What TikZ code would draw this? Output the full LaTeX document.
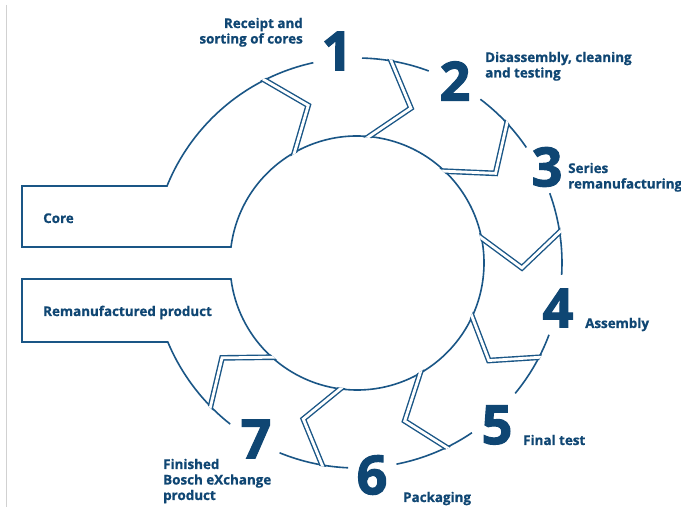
\documentclass[tikz,border=0pt]{standalone}
\usepackage{fontspec}
\setmainfont{Open Sans}
\newfontfamily\heavyfont{Open Sans}[BoldFeatures={FakeBold=2}]
\newfontfamily\lblfont{Open Sans}[BoldFeatures={FakeBold=0.8}]
\usetikzlibrary{calc}
\definecolor{navy}{HTML}{0F4673}
\definecolor{ln}{HTML}{1A5686}
\begin{document}
\begin{tikzpicture}[x=1pt,y=1pt,
  lbl/.style={inner sep=0pt, text=navy, font=\lblfont\fontsize{13.4}{15.5}\selectfont\bfseries},
  num/.style={inner sep=0pt, text=navy, font=\heavyfont\fontsize{54}{54}\selectfont\bfseries},
  ring/.style={draw=ln, line width=1.6pt, line join=miter},
  seam/.style={draw=ln, line width=1.4pt, double=white, double distance=2.8pt, line join=miter}]
\useasboundingbox (0,0) rectangle (681,514);
\fill[white] (0,0) rectangle (681,514);
\draw[black!18, line width=0.8pt] (6.5,509) -- (6.5,7);
\begin{scope}[shift={(357,251)}]
  % arms, inner ring and outer arcs
  \draw[ring] (102.3:205) arc[start angle=102.3, end angle=157.94, radius=205]
     -- (-335,77) -- (-335,16) -- (-125.99,16)
     arc[start angle=172.762, end angle=-172.762, radius=127]
     -- (-335,-16) -- (-335,-79) -- (-189.17,-79)
     arc[start angle=-157.333, end angle=-128.2, radius=205];
  \draw[ring] (88.6:205) arc[start angle=88.6, end angle=69.5, radius=205];
  \draw[ring] (53.0:205) arc[start angle=53.0, end angle=34.3, radius=205];
  \draw[ring] (19.9:205) arc[start angle=19.9, end angle=-3.3, radius=205];
  \draw[ring] (-20.5:205) arc[start angle=-20.5, end angle=-39.5, radius=205];
  \draw[ring] (-55.9:205) arc[start angle=-55.9, end angle=-78.9, radius=205];
  \draw[ring] (-92.5:205) arc[start angle=-92.5, end angle=-112.2, radius=205];
  % seams between segments
  \begin{scope}[even odd rule]
    \clip (0,0) circle[radius=206.3] (0,0) circle[radius=125.7];
    \foreach \o/\k/\rk/\i in {116.8/107.2/165/119.5, 80.4/70.8/164/84.6,
        43.0/32.9/165/46.3, 8.7/-1.7/165/11.3, -27.4/-36.5/164/-25.0,
        -64.1/-73.2/165/-60.2, -99.8/-109.0/165/-97.6, -135.6/-144.9/165/-132.1}
      \draw[seam] ($(\o:205)!-0.25!(\k:\rk)$) -- (\k:\rk) -- ($(\i:127)!-0.25!(\k:\rk)$);
  \end{scope}
\end{scope}
% numbers
\node[num] (n1) at (337,463) {1};
\node[num] (n2) at (455,433) {2};
\node[num] (n3) at (547,347) {3};
\node[num] (n4) at (558,206) {4};
\node[num] (n5) at (497,89) {5};
\node[num] (n6) at (372,39) {6};
\node[num] (n7) at (256,75) {7};
% labels
\node[lbl, anchor=base east] (l1) at (303,486) {\begin{tabular}[t]{@{}r@{}}Receipt and\\sorting of cores\end{tabular}};
\node[lbl, anchor=base west] (l2) at (485,452) {\begin{tabular}[t]{@{}l@{}}Disassembly, cleaning\\and testing\end{tabular}};
\node[lbl, anchor=base west] (l3) at (568,341) {\begin{tabular}[t]{@{}l@{}}Series\\remanufacturing\end{tabular}};
\node[lbl, anchor=base west] (l4) at (585,186) {Assembly};
\node[lbl, anchor=base west] (l5) at (523,69) {Final test};
\node[lbl, anchor=base west] (l6) at (403,12) {Packaging};
\node[lbl, anchor=base west] (l7) at (163,45) {\begin{tabular}[t]{@{}l@{}}Finished\\Bosch eXchange\\product\end{tabular}};
\node[lbl, anchor=base west] (lc) at (43,291) {Core};
\node[lbl, anchor=base west] (lr) at (43,198) {Remanufactured product};
\end{tikzpicture}
\end{document}
